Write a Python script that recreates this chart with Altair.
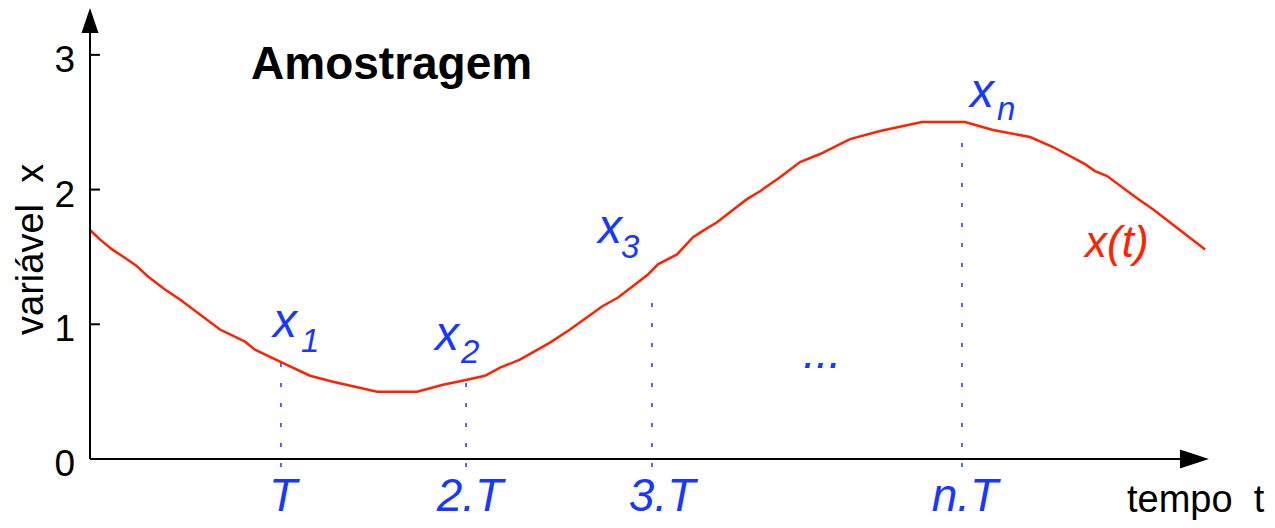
import altair as alt
import pandas as pd

# ---------------- data ----------------
curve_t = [0.000, 0.053, 0.118, 0.182, 0.246, 0.310, 0.401, 0.481, 0.695, 0.829,
           0.882, 1.016, 1.176, 1.299, 1.535, 1.749, 1.888, 2.016, 2.112, 2.193,
           2.299, 2.460, 2.567, 2.738, 2.824, 2.984, 3.037, 3.139, 3.225, 3.273,
           3.353, 3.513, 3.583, 3.690, 3.797, 3.904, 4.064, 4.225, 4.449, 4.679,
           4.829, 5.027, 5.150, 5.321, 5.374, 5.439, 5.599, 5.684, 5.963]
curve_x = [1.700, 1.630, 1.556, 1.497, 1.437, 1.355, 1.258, 1.184, 0.961, 0.871,
           0.812, 0.722, 0.618, 0.573, 0.499, 0.499, 0.551, 0.588, 0.618, 0.678,
           0.737, 0.864, 0.961, 1.132, 1.199, 1.370, 1.445, 1.519, 1.646, 1.690,
           1.757, 1.929, 1.988, 2.092, 2.204, 2.264, 2.375, 2.435, 2.502, 2.502,
           2.442, 2.390, 2.316, 2.189, 2.137, 2.100, 1.936, 1.854, 1.556]

sample_t = [1.021, 2.011, 3.005, 4.663]
sample_x = [0.72, 0.59, 1.22, 2.45]
time_labels = ["T", "2.T", "3.T", "n.T"]
sample_subs = ["1", "2", "3", "n"]
ytick_values = [0, 1, 2, 3]
ytick_labels = ["0", "1", "2", "3"]

title_text = "Amostragem"
y_title = "variável\u00a0\u00a0x"
x_title = "tempo\u00a0\u00a0t"
curve_label = "x(t)"
ellipsis = "..."

# ---------------- layout helpers ----------------
BLUE = "#1838ff"
RED = "#ff2200"
FONT = "Liberation Sans"

xs = alt.Scale(domain=[-0.4385, 6.294], nice=False, zero=False)
ys = alt.Scale(domain=[-0.453, 3.348], nice=False, zero=False)


def X(f):
    return alt.X(f, type="quantitative", scale=xs, axis=None)


def Y(f):
    return alt.Y(f, type="quantitative", scale=ys, axis=None)


curve_df = pd.DataFrame({"t": curve_t, "x": curve_x})
samp_df = pd.DataFrame({
    "t": sample_t, "x": sample_x, "lab": time_labels, "sub": sample_subs,
    "y0": [-0.06] * 4,
    "xl_t": [0.979, 1.845, 2.717, 4.706],
    "xl_y": [0.906, 0.809, 1.604, 2.613],
    "sl_t": [1.128, 1.984, 2.840, 4.850],
    "sl_y": [0.794, 0.713, 1.492, 2.517],
    "tl_t": [1.032, 2.032, 3.059, 4.679],
    "tl_y": [-0.386] * 4,
})
tick_df = pd.DataFrame({"y": ytick_values, "lab": ytick_labels,
                        "x0": [0.0] * 4, "x1": [0.053] * 4, "lx": [-0.08] * 4})
tick_df_lines = tick_df[tick_df["y"] > 0]

axis_df = pd.DataFrame({"t0": [0.0, 0.0], "t1": [0.0, 5.85],
                        "y0": [0.0, 0.0], "y1": [3.2, 0.0]})

# ---------------- layers ----------------
curve = alt.Chart(curve_df).mark_line(color=RED, strokeWidth=2.5).encode(
    x=X("t"), y=Y("x"))

drops = alt.Chart(samp_df).mark_rule(color=BLUE, strokeWidth=1.5, strokeDash=[4, 16]).encode(
    x=X("t"), y=Y("y0"), y2=alt.Y2("x"))

axes = alt.Chart(axis_df).mark_rule(color="black", strokeWidth=2).encode(
    x=X("t0"), x2=alt.X2("t1"), y=Y("y0"), y2=alt.Y2("y1"))

ticks = alt.Chart(tick_df_lines).mark_rule(color="black", strokeWidth=2).encode(
    x=X("x0"), x2=alt.X2("x1"), y=Y("y"))

tick_labels = alt.Chart(tick_df).mark_text(
    font=FONT, fontSize=37, align="right", baseline="alphabetic", dy=17, color="black"
).encode(x=X("lx"), y=Y("y"), text="lab:N")

arrow_y = alt.Chart(pd.DataFrame({"t": [0.0], "y": [3.255]})).mark_point(
    shape="M0,-1L0.68,1L-0.68,1Z", filled=True, color="black", opacity=1, size=625
).encode(x=X("t"), y=Y("y"))

arrow_x = alt.Chart(pd.DataFrame({"t": [5.906], "y": [0.0]})).mark_point(
    shape="M1,0L-1,0.655L-1,-0.655Z", filled=True, color="black", opacity=1, size=841
).encode(x=X("t"), y=Y("y"))

x_main = alt.Chart(samp_df).mark_text(
    font=FONT, fontSize=48, fontStyle="italic", align="left", baseline="alphabetic", color=BLUE
).encode(x=X("xl_t"), y=Y("xl_y"), text=alt.value("x"))

x_sub = alt.Chart(samp_df).mark_text(
    font=FONT, fontSize=33, fontStyle="italic", align="left", baseline="alphabetic", color=BLUE
).encode(x=X("sl_t"), y=Y("sl_y"), text="sub:N")

t_labels = alt.Chart(samp_df).mark_text(
    font=FONT, fontSize=46, fontStyle="italic", align="center", baseline="alphabetic", color=BLUE
).encode(x=X("tl_t"), y=Y("tl_y"), text="lab:N")

title = alt.Chart(pd.DataFrame({"t": [0.861], "y": [2.821], "s": [title_text]})).mark_text(
    font=FONT, fontSize=46, fontWeight="bold", align="left", baseline="alphabetic", color="black"
).encode(x=X("t"), y=Y("y"), text="s:N")

ytitle = alt.Chart(pd.DataFrame({"t": [-0.251], "y": [1.556], "s": [y_title]})).mark_text(
    font=FONT, fontSize=38, angle=270, align="center", baseline="alphabetic", color="black"
).encode(x=X("t"), y=Y("y"), text="s:N")

xtitle = alt.Chart(pd.DataFrame({"t": [5.545], "y": [-0.393], "s": [x_title]})).mark_text(
    font=FONT, fontSize=38, align="left", baseline="alphabetic", color="black"
).encode(x=X("t"), y=Y("y"), text="s:N")

curve_lab = alt.Chart(pd.DataFrame({"t": [5.321], "y": [1.500], "s": [curve_label]})).mark_text(
    font=FONT, fontSize=44, fontStyle="italic", align="left", baseline="alphabetic", color=RED
).encode(x=X("t"), y=Y("y"), text="s:N")

dots = alt.Chart(pd.DataFrame({"t": [3.813], "y": [0.676], "s": [ellipsis]})).mark_text(
    font=FONT, fontSize=46, fontStyle="italic", align="left", baseline="alphabetic", color=BLUE
).encode(x=X("t"), y=Y("y"), text="s:N")

chart = alt.layer(
    drops, curve, axes, ticks, tick_labels, arrow_y, arrow_x,
    x_main, x_sub, t_labels, title, ytitle, xtitle, curve_lab, dots
).properties(
    width=1259, height=512,
    autosize=alt.AutoSizeParams(type="none"),
    padding=0,
    background="white",
).configure_view(stroke=None)

chart.save("out.html", embed_options={"renderer": "svg", "actions": False})
